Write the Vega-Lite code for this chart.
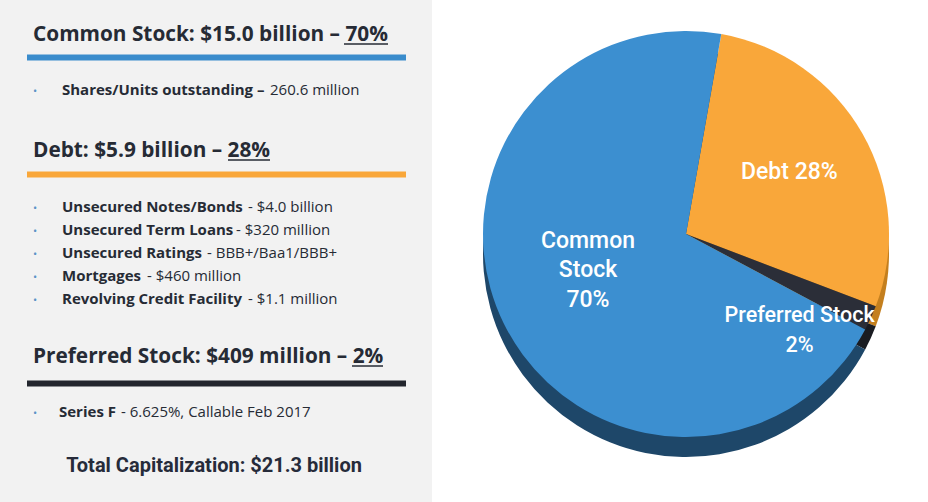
{
  "$schema": "https://vega.github.io/schema/vega-lite/v6.json",
  "padding": 0,
  "spacing": 0,
  "background": "#ffffff",
  "config": {"view": {"stroke": null}, "concat": {"spacing": 0}},
  "resolve": {"scale": {"color": "independent", "x": "independent", "y": "independent", "theta": "independent"}},
  "datasets": {
    "bars": [
      {"section": "Common Stock", "x0": 27, "x1": 406, "y0": 54.5, "y1": 60.5},
      {"section": "Debt", "x0": 27, "x1": 406, "y0": 171.5, "y1": 177.5},
      {"section": "Preferred Stock", "x0": 27, "x1": 406, "y0": 380.5, "y1": 386.5}
    ],
    "headings": [
      {"t": "Common Stock: $15.0 billion – 70%", "x": 33, "y": 41},
      {"t": "Debt: $5.9 billion – 28%", "x": 33, "y": 157},
      {"t": "Preferred Stock: $409 million – 2%", "x": 33, "y": 363}
    ],
    "underlines": [
      {"x0": 344, "x1": 388, "y": 44},
      {"x0": 228, "x1": 270, "y": 160},
      {"x0": 352, "x1": 383, "y": 366}
    ],
    "bullets": [
      {"b": "Shares/Units outstanding –", "r": "260.6 million", "y": 95, "bx": 62, "rx": 270},
      {"b": "Unsecured Notes/Bonds", "r": "- $4.0 billion", "y": 211.7, "bx": 62, "rx": 248},
      {"b": "Unsecured Term Loans", "r": "- $320 million", "y": 234.7, "bx": 62, "rx": 236},
      {"b": "Unsecured Ratings", "r": "- BBB+/Baa1/BBB+", "y": 257.7, "bx": 62, "rx": 207},
      {"b": "Mortgages", "r": "- $460 million", "y": 280.7, "bx": 62, "rx": 147},
      {"b": "Revolving Credit Facility", "r": "- $1.1 million", "y": 303.7, "bx": 62, "rx": 248},
      {"b": "Series F", "r": "- 6.625%, Callable Feb 2017", "y": 417, "bx": 59, "rx": 121}
    ],
    "total": [
      {"t": "Total Capitalization: $21.3 billion", "x": 214, "y": 471.5}
    ],
    "pie": [
      {"segment": "Debt", "value": 28, "rank": 1, "label": "Debt 28%"},
      {"segment": "Preferred Stock", "value": 2, "rank": 2, "label": "Preferred Stock\n2%"},
      {"segment": "Common Stock", "value": 70, "rank": 3, "label": "Common\nStock\n70%"}
    ]
  },
  "hconcat": [
    {
      "width": 432,
      "height": 502,
      "view": {"fill": "#f2f2f2", "stroke": null},
      "layer": [
        {
          "data": {"name": "bars"},
          "mark": {"type": "rect"},
          "encoding": {
            "x": {"field": "x0", "type": "quantitative", "scale": {"domain": [0, 432], "nice": false, "zero": false}, "axis": null},
            "x2": {"field": "x1"},
            "y": {"field": "y0", "type": "quantitative", "scale": {"domain": [0, 502], "nice": false, "zero": false, "reverse": true}, "axis": null},
            "y2": {"field": "y1"},
            "color": {"field": "section", "type": "nominal", "legend": null,
              "scale": {"domain": ["Common Stock", "Debt", "Preferred Stock"], "range": ["#3a8ccc", "#f9a73a", "#23262e"]}}
          }
        },
        {
          "data": {"name": "headings"},
          "mark": {"type": "text", "align": "left", "baseline": "alphabetic", "font": "Open Sans", "fontWeight": "bold", "fontSize": 20.8, "color": "#262b35"},
          "encoding": {
            "x": {"field": "x", "type": "quantitative", "scale": {"domain": [0, 432], "nice": false, "zero": false}, "axis": null},
            "y": {"field": "y", "type": "quantitative", "scale": {"domain": [0, 502], "nice": false, "zero": false, "reverse": true}, "axis": null},
            "text": {"field": "t"}
          }
        },
        {
          "data": {"name": "underlines"},
          "mark": {"type": "rule", "color": "#262b35", "strokeWidth": 1.5},
          "encoding": {
            "x": {"field": "x0", "type": "quantitative", "scale": {"domain": [0, 432], "nice": false, "zero": false}, "axis": null},
            "x2": {"field": "x1"},
            "y": {"field": "y", "type": "quantitative", "scale": {"domain": [0, 502], "nice": false, "zero": false, "reverse": true}, "axis": null}
          }
        },
        {
          "data": {"name": "bullets"},
          "mark": {"type": "text", "align": "left", "baseline": "alphabetic", "font": "Open Sans", "fontSize": 11, "color": "#5b93c7"},
          "encoding": {
            "x": {"datum": 33, "type": "quantitative", "scale": {"domain": [0, 432], "nice": false, "zero": false}, "axis": null},
            "y": {"field": "y", "type": "quantitative", "scale": {"domain": [0, 502], "nice": false, "zero": false, "reverse": true}, "axis": null},
            "text": {"value": "•"}
          }
        },
        {
          "data": {"name": "bullets"},
          "mark": {"type": "text", "align": "left", "baseline": "alphabetic", "font": "Open Sans", "fontWeight": "bold", "fontSize": 15, "color": "#262b35"},
          "encoding": {
            "x": {"field": "bx", "type": "quantitative", "scale": {"domain": [0, 432], "nice": false, "zero": false}, "axis": null},
            "y": {"field": "y", "type": "quantitative", "scale": {"domain": [0, 502], "nice": false, "zero": false, "reverse": true}, "axis": null},
            "text": {"field": "b"}
          }
        },
        {
          "data": {"name": "bullets"},
          "mark": {"type": "text", "align": "left", "baseline": "alphabetic", "font": "Open Sans", "fontSize": 15, "color": "#262b35"},
          "encoding": {
            "x": {"field": "rx", "type": "quantitative", "scale": {"domain": [0, 432], "nice": false, "zero": false}, "axis": null},
            "y": {"field": "y", "type": "quantitative", "scale": {"domain": [0, 502], "nice": false, "zero": false, "reverse": true}, "axis": null},
            "text": {"field": "r"}
          }
        },
        {
          "data": {"name": "total"},
          "mark": {"type": "text", "align": "center", "baseline": "alphabetic", "font": "Roboto", "fontWeight": "bold", "fontSize": 20, "color": "#262b3a"},
          "encoding": {
            "x": {"field": "x", "type": "quantitative", "scale": {"domain": [0, 432], "nice": false, "zero": false}, "axis": null},
            "y": {"field": "y", "type": "quantitative", "scale": {"domain": [0, 502], "nice": false, "zero": false, "reverse": true}, "axis": null},
            "text": {"field": "t"}
          }
        }
      ]
    },
    {
      "width": 496,
      "height": 502,
      "data": {"name": "pie"},
      "resolve": {"scale": {"color": "independent"}},
      "layer": [
        {
          "mark": {"type": "arc", "radius": 203, "xOffset": 6, "yOffset": 3},
          "encoding": {
            "theta": {"field": "value", "type": "quantitative", "stack": true, "scale": {"range": [0.175, 6.458]}},
            "order": {"field": "rank", "type": "quantitative"},
            "color": {"field": "segment", "type": "nominal", "legend": null,
              "scale": {"domain": ["Debt", "Preferred Stock", "Common Stock"], "range": ["#c47f1e", "#1a1c22", "#1e4769"]}}
          }
        },
        {
          "mark": {"type": "arc", "radius": 203, "xOffset": 6, "yOffset": -17},
          "encoding": {
            "theta": {"field": "value", "type": "quantitative", "stack": true, "scale": {"range": [0.175, 6.458]}},
            "order": {"field": "rank", "type": "quantitative"},
            "color": {"field": "segment", "type": "nominal", "legend": null,
              "scale": {"domain": ["Debt", "Preferred Stock", "Common Stock"], "range": ["#f9a73a", "#2b2e38", "#3c8fd0"]}}
          }
        },
        {
          "mark": {"type": "text", "radius": 120, "dx": 5, "dy": -20, "align": "center", "baseline": "middle", "lineBreak": "\n", "lineHeight": 30, "font": "Roboto", "fontWeight": 500, "fontSize": 23, "color": "#ffffff"},
          "encoding": {
            "theta": {"field": "value", "type": "quantitative", "stack": true, "scale": {"range": [0.175, 6.458]}},
            "order": {"field": "rank", "type": "quantitative"},
            "text": {"condition": {"test": "datum.segment === 'Debt'", "field": "label"}, "value": ""}
          }
        },
        {
          "mark": {"type": "text", "radius": 104, "dx": 1.5, "dy": -56, "align": "center", "baseline": "middle", "lineBreak": "\n", "lineHeight": 29.5, "font": "Roboto", "fontWeight": 500, "fontSize": 23, "color": "#ffffff"},
          "encoding": {
            "theta": {"field": "value", "type": "quantitative", "stack": true, "scale": {"range": [0.175, 6.458]}},
            "order": {"field": "rank", "type": "quantitative"},
            "text": {"condition": {"test": "datum.segment === 'Common Stock'", "field": "label"}, "value": ""}
          }
        },
        {
          "mark": {"type": "text", "radius": 161, "dx": -27, "dy": -2, "align": "center", "baseline": "middle", "lineBreak": "\n", "lineHeight": 30, "font": "Roboto", "fontWeight": 500, "fontSize": 21.5, "color": "#ffffff"},
          "encoding": {
            "theta": {"field": "value", "type": "quantitative", "stack": true, "scale": {"range": [0.175, 6.458]}},
            "order": {"field": "rank", "type": "quantitative"},
            "text": {"condition": {"test": "datum.segment === 'Preferred Stock'", "field": "label"}, "value": ""}
          }
        }
      ]
    }
  ]
}
